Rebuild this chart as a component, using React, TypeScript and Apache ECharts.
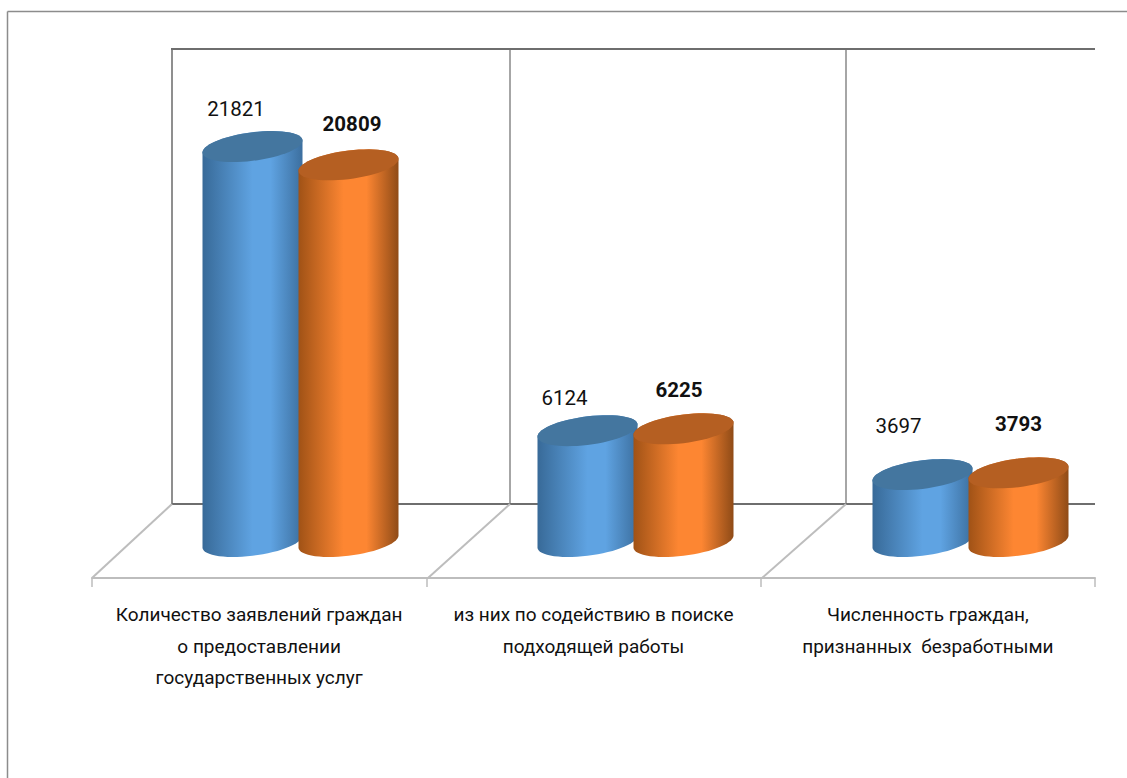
import React, { useEffect, useRef } from "react";
import * as echarts from "echarts";

const categories = [
  "Количество заявлений граждан\nо предоставлении\nгосударственных услуг",
  "из них по содействию в поиске\nподходящей работы",
  "Численность граждан,\nпризнанных  безработными",
];
const firstValues = [21821, 6124, 3697];
const secondValues = [20809, 6225, 3793];

// hand-placed label offsets from the top of each cylinder, as in the original
const firstLabelShift = [[-16.5, -37.5], [-23, -33], [-24, -49]];
const secondLabelShift = [[3.5, -41], [-4.5, -39], [0, -49]];

const FONT = "Roboto, 'Noto Sans', sans-serif";
const WALL_DARK = "#6e6e6e";
const WALL = "#a6a6a6";
const FLOOR = "#bdbdbd";

function cylinderSeries(
  name: string,
  values: number[],
  offset: number,
  colors: { edgeL: string; mid: string; edgeR: string; top: string; stop: number },
  shifts: number[][],
  bold: boolean,
) {
  return {
    type: "custom",
    name,
    xAxisIndex: 0,
    yAxisIndex: 0,
    z: 3,
    data: values.map((v, i) => [i, v]),
    renderItem: (_p: any, api: any) => {
      const i = api.value(0);
      const v = api.value(1);
      const top = api.coord([i, v]);
      const base = api.coord([i, 0]);
      const cx = top[0] + offset;
      const A = 50;
      const S = 6;
      const B = 14.3;
      const pt = (cy: number, t: number) => [
        cx + A * Math.cos(t),
        cy - S * Math.cos(t) - B * Math.sin(t),
      ];
      const N = 60;
      const ellipse: number[][] = [];
      for (let k = 0; k < N; k++) ellipse.push(pt(top[1], (2 * Math.PI * k) / N));
      const body: number[][] = [];
      for (let k = 0; k <= N / 2; k++) body.push(pt(top[1], (Math.PI * k) / (N / 2)));
      for (let k = 0; k <= N / 2; k++) body.push(pt(base[1], Math.PI + (Math.PI * k) / (N / 2)));
      return {
        type: "group",
        children: [
          {
            type: "polygon",
            shape: { points: body },
            style: {
              fill: new echarts.graphic.LinearGradient(0, 0, 1, 0, [
                { offset: 0, color: colors.edgeL },
                { offset: colors.stop, color: colors.mid },
                { offset: 0.68, color: colors.mid },
                { offset: 1, color: colors.edgeR },
              ]),
            },
          },
          {
            type: "polygon",
            shape: { points: ellipse },
            style: { fill: colors.top },
          },
          {
            type: "text",
            x: cx + shifts[i][0],
            y: top[1] + shifts[i][1],
            style: {
              text: String(v),
              fill: "#111",
              font: `${bold ? "bold " : ""}20.5px ${FONT}`,
              textAlign: "center",
              textVerticalAlign: "middle",
            },
          },
        ],
      };
    },
  };
}

const blue = { edgeL: "#386a98", mid: "#5fa3e2", edgeR: "#3c6f9f", top: "#44769f", stop: 0.5 };
const orange = { edgeL: "#a05216", mid: "#fd8632", edgeR: "#8f4b17", top: "#b55f22", stop: 0.45 };

const wallLine = (x1: number, y1: number, x2: number, y2: number, stroke: string, lineWidth = 2) => ({
  type: "line",
  silent: true,
  z: 0,
  shape: { x1, y1, x2, y2 },
  style: { stroke, lineWidth },
});

export default function App() {
  const ref = useRef<HTMLDivElement>(null);
  useEffect(() => {
    const chart = echarts.init(ref.current!, null, { renderer: "svg" });
    chart.setOption({
      animation: false,
      backgroundColor: "#ffffff",
      grid: [
        { left: 301, width: 670, top: 89, height: 452.5 },
        { left: 92, width: 1003, top: 504, height: 74 },
      ],
      xAxis: [
        { type: "category", gridIndex: 0, data: categories, show: false, boundaryGap: false },
        {
          type: "category",
          gridIndex: 1,
          data: categories,
          axisLine: { show: true, lineStyle: { color: FLOOR, width: 2 } },
          axisTick: { show: true, length: 9, lineStyle: { color: FLOOR, width: 1.5 } },
          axisLabel: {
            interval: 0,
            margin: 21,
            color: "#111",
            fontFamily: FONT,
            fontSize: 19,
            lineHeight: 31.5,
            align: "center",
            verticalAlign: "top",
          },
        },
      ],
      yAxis: [
        { type: "value", gridIndex: 0, min: 0, max: 25000, show: false },
        { type: "value", gridIndex: 1, show: false },
      ],
      graphic: [
        wallLine(7.5, 11.5, 7.5, 778, "#8c8c8c", 1.5),
        wallLine(7.5, 11.5, 1127, 11.5, "#8c8c8c", 1.5),
        wallLine(510, 49, 510, 504, WALL),
        wallLine(846, 49, 846, 504, WALL),
        wallLine(172, 49, 172, 504, "#8f8f8f"),
        wallLine(171, 49, 1095, 49, WALL_DARK),
        wallLine(171, 504, 1095, 504, WALL_DARK),
        wallLine(172, 504, 92, 578, FLOOR),
        wallLine(510, 504, 428, 578, FLOOR),
        wallLine(846, 504, 762, 578, FLOOR),
      ],
      series: [
        cylinderSeries("Ряд 1", firstValues, -48.5, blue, firstLabelShift, false),
        cylinderSeries("Ряд 2", secondValues, 47.5, orange, secondLabelShift, true),
      ],
    });
    return () => chart.dispose();
  }, []);
  return (
    <div
      ref={ref}
      style={{ position: "fixed", left: 0, top: 0, width: 1127, height: 778 }}
    />
  );
}
